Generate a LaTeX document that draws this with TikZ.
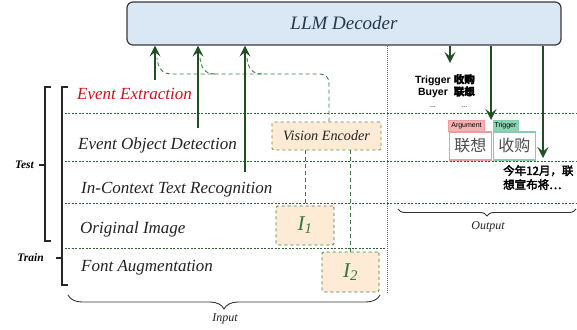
\documentclass[tikz,border=0pt]{standalone}
\usepackage{fontspec}
\setmainfont{Liberation Serif}
\newfontfamily\sansf{Liberation Sans}
\newfontfamily\cjk{Noto Sans CJK SC}
\newfontfamily\cjkheavy{Noto Sans CJK SC}[FakeBold=3]
\usetikzlibrary{arrows.meta,decorations.pathreplacing}

\definecolor{decfill}{HTML}{DAE8F5}
\definecolor{decline}{HTML}{3A3A3A}
\definecolor{dectext}{HTML}{26394A}
\definecolor{arrgreen}{HTML}{1F4F22}
\definecolor{dotgreen}{HTML}{2F6232}
\definecolor{encfill}{HTML}{FDEBD5}
\definecolor{encline}{HTML}{5E8F45}
\definecolor{imgline}{HTML}{3A7A45}
\definecolor{igreen}{HTML}{2E7A36}
\definecolor{evred}{HTML}{D0101A}
\definecolor{pinkfill}{HTML}{F6B1B5}
\definecolor{pinkline}{HTML}{EE9BA0}
\definecolor{tealfill}{HTML}{8CD4B4}
\definecolor{tealline}{HTML}{86CDB0}
\definecolor{txtgray}{HTML}{222222}

\begin{document}
\begin{tikzpicture}[x=1pt,y=-1pt,
  decbox/.style={draw=decline, line width=1.2pt, fill=decfill, rounded corners=6pt,
    inner sep=0pt, text=dectext, font=\fontsize{19}{22}\selectfont\itshape},
  encbox/.style={draw=encline, dashed, line width=0.9pt, fill=encfill, rounded corners=1.5pt,
    inner sep=0pt, text=txtgray, font=\fontsize{14.2}{16}\selectfont\itshape},
  imgbox/.style={draw=imgline, dashed, line width=0.9pt, fill=encfill, rounded corners=1.5pt,
    inner sep=0pt, text=igreen, font=\fontsize{21}{24}\selectfont\itshape},
  uparr/.style={draw=arrgreen, line width=1.5pt, -{Stealth[length=11pt,width=11pt,inset=4.5pt]}},
  vedash/.style={draw=imgline, line width=0.9pt, dash pattern=on 4pt off 3pt},
  rowline/.style={draw=dotgreen, line width=0.7pt, dash pattern=on 2pt off 1.5pt},
  colline/.style={draw=black!60, line width=0.8pt, dash pattern=on 1pt off 1pt},
  brk/.style={draw=black!85, line width=1.1pt},
  task/.style={anchor=base west, inner sep=0pt, text=txtgray, font=\fontsize{17}{20}\selectfont\itshape},
  phase/.style={anchor=east, inner sep=0pt, font=\fontsize{11.5}{13}\selectfont\bfseries\itshape},
  bracelab/.style={inner sep=0pt, text=txtgray, font=\fontsize{12}{14}\selectfont\itshape},
  brace/.style={draw=black!80, line width=0.9pt, decorate, decoration={brace, mirror, amplitude=#1}},
  tagbox/.style={anchor=north west, inner sep=0pt, minimum height=11pt, line width=1pt,
    font=\sansf\fontsize{7}{8}\selectfont},
  handbox/.style={anchor=north west, inner sep=0pt, fill=white, line width=1.8pt,
    minimum height=28pt, text=black!70, font=\cjk\fontsize{16}{17}\selectfont}
]
\useasboundingbox (0,0) rectangle (577,329);

% decoder
\node[decbox, minimum width=434pt, minimum height=43pt] (dec) at (344,23.5) {LLM Decoder};

% row separators and the input/output divider
\draw[rowline] (61,113) -- (576,113);
\draw[rowline] (61,161) -- (576,161);
\draw[rowline] (61,203) -- (576,203);
\draw[rowline] (61,248) -- (387,248);
\draw[colline] (dec.south -| 387,0) -- (387,292);

% task rows
\node[task, text=evred] (ee) at (77,99) {Event Extraction};
\node[task] (eod) at (78,149) {Event Object Detection};
\node[task] (ictr) at (81,193) {In-Context Text Recognition};
\node[task] (oi) at (80,233) {Original Image};
\node[task] (fa) at (81,271) {Font Augmentation};

% encoder and images
\node[encbox, minimum width=109pt, minimum height=28pt] (ve) at (326.5,136) {Vision Encoder};
\node[imgbox, minimum width=58pt, minimum height=39pt] (i1) at (305,225.5) {I\textsubscript{1}};
\node[imgbox, minimum width=57pt, minimum height=40pt] (i2) at (350.5,272) {I\textsubscript{2}};
\draw[vedash] (ve.south -| i1.north) -- (i1.north);
\draw[vedash] (ve.south -| i2.north) -- (i2.north);

% encoder features fed to the decoder
\coordinate (a1) at (155,80);
\coordinate (a2) at (198,128);
\coordinate (a3) at (245,172);
\coordinate (b1) at (157,58);
\coordinate (b2) at (200,58);
\coordinate (b3) at (247,58);
\draw[vedash] ([xshift=2.5pt]ve.north) -- (329,84) .. controls (329,77) and (326,74) .. (318,74)
  -- (172,74) .. controls (162,74) and (158,68) .. (b1);
\draw[vedash] (215,74) .. controls (205,74) and (201,68) .. (b2);
\draw[vedash] (262,74) .. controls (252,74) and (248,68) .. (b3);
\draw[uparr] (a1) -- (a1 |- dec.south);
\draw[uparr] (a2) -- (a2 |- dec.south);
\draw[uparr] (a3) -- (a3 |- dec.south);

% test / train brackets
\draw[brk] (68,87) -- (62,87) -- (62,285) -- (68,285);
\draw[brk] (56,258) -- (62,258);
\draw[brk] (51,87) -- (45,87) -- (45,241) -- (51,241);
\draw[brk] (39,165) -- (45,165);
\node[phase] (test) at (34,165) {Test};
\node[phase] (train) at (44,258) {Train};

% input / output braces
\draw[brace=14pt] (68,295) -- (380,295);
\node[bracelab] (inlab) at (225,319) {Input};
\draw[brace=7pt] (398,209) -- (576,209);
\node[bracelab] (outlab) at (488,227) {Output};

% decoder outputs
\coordinate (o1) at (450,63);
\coordinate (o2) at (491,120);
\coordinate (o3) at (543,158);
\draw[uparr] (dec.south -| o1) -- (o1);
\draw[uparr] (dec.south -| o2) -- (o2);
\draw[uparr] (dec.south -| o3) -- (o3);

\node[anchor=north, inner sep=0pt, font=\sansf\bfseries\fontsize{10.5}{12.5}\selectfont] (ext) at (445,74)
  {\begin{tabular}{@{}c@{\hspace{3pt}}c@{}}
   Trigger & {\cjkheavy 收购}\\[-0.5pt]
   Buyer & {\cjkheavy 联想}\\[0pt]
   {\normalfont\sansf\fontsize{7}{8}\selectfont ...} & {\normalfont\sansf\fontsize{7}{8}\selectfont ...}
   \end{tabular}};

% detected objects
\node[tagbox, draw=pinkline, fill=pinkfill, minimum width=36pt] (argtag) at (448,120) {Argument};
\node[handbox, draw=pinkline, minimum width=42pt] (argimg) at (448.5,131) {联想};
\node[tagbox, draw=tealline, fill=tealfill, minimum width=25pt] (trgtag) at (492.5,120) {Trigger};
\node[handbox, draw=tealline, minimum width=42pt] (trgimg) at (492.5,131) {收购};

% recognised text
\node[anchor=north west, inner sep=0pt, align=left, font=\cjkheavy\fontsize{11.5}{14}\selectfont] (rec) at (503,165)
  {今年12月，联\\想宣布将…};
\end{tikzpicture}
\end{document}
